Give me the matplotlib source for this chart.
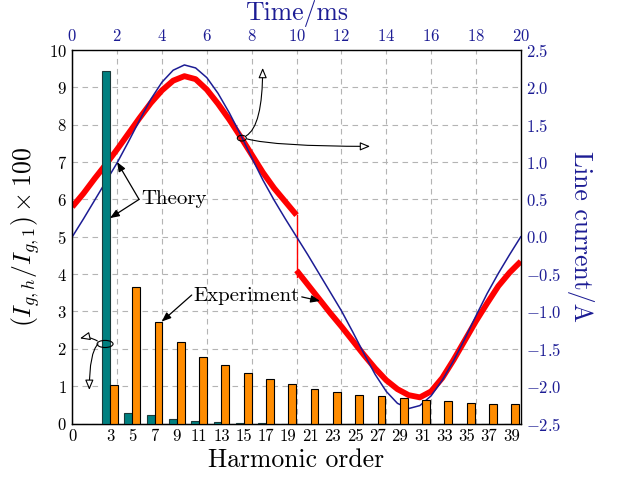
import numpy as np
import matplotlib.pyplot as plt
from matplotlib.patches import Ellipse

plt.rcParams['font.family'] = 'cmr10'
plt.rcParams['mathtext.fontset'] = 'cm'
plt.rcParams['axes.formatter.use_mathtext'] = True

# spectrum (left / bottom axes)
harmonics = [3, 5, 7, 9, 11, 13, 15, 17, 19, 21, 23, 25, 27, 29, 31, 33, 35, 37, 39]
theory = [9.45, 0.28, 0.24, 0.11, 0.07, 0.03, 0.02, 0.02, 0, 0, 0, 0, 0, 0, 0, 0, 0, 0, 0]
experiment = [1.03, 3.65, 2.73, 2.17, 1.78, 1.57, 1.35, 1.18, 1.07, 0.93, 0.84,
              0.76, 0.74, 0.69, 0.64, 0.60, 0.56, 0.53, 0.53]

# line current (top / right axes), sampled every 0.5 ms
time_ms = np.arange(0, 20.5, 0.5)
theory_current = [0, 0.24, 0.49, 0.74, 0.99, 1.27, 1.56, 1.84, 2.07, 2.23, 2.30,
                  2.26, 2.13, 1.92, 1.66, 1.37, 1.06, 0.76, 0.49, 0.24, 0,
                  -0.24, -0.49, -0.74, -0.99, -1.27, -1.56, -1.84, -2.07, -2.23, -2.30,
                  -2.26, -2.13, -1.92, -1.66, -1.37, -1.06, -0.76, -0.49, -0.24, 0]
exp_current_1 = [0.40, 0.58, 0.78, 0.97, 1.17, 1.38, 1.59, 1.79, 1.96, 2.09, 2.15,
                 2.11, 1.97, 1.78, 1.57, 1.34, 1.10, 0.86, 0.65, 0.47, 0.29]
exp_jump = [0.29, -0.54]
exp_current_2 = [-0.45, -0.64, -0.83, -1.02, -1.20, -1.39, -1.58, -1.76, -1.92, -2.04, -2.12,
                 -2.15, -2.07, -1.89, -1.65, -1.39, -1.13, -0.89, -0.66, -0.48, -0.33]

navy = '#1c1c94'
teal = '#008080'
orange = '#ff8c00'
grid_kw = dict(color='#b4b4b4', linestyle=(0, (5, 4)), linewidth=0.8)

fig = plt.figure(figsize=(6.21, 4.8), dpi=100)
pos = [0.1164, 0.1177, 0.7222, 0.7781]

# time axes underneath: grid + curves
ax_t = fig.add_axes(pos)
ax_t.set_xlim(0, 20)
ax_t.set_ylim(-2.5, 2.5)
ax_t.set_xticks(np.arange(0, 21, 2))
ax_t.set_yticks(np.arange(-2.5, 2.51, 0.5))
ax_t.xaxis.tick_top()
ax_t.yaxis.tick_right()
ax_t.xaxis.set_label_position('top')
ax_t.yaxis.set_label_position('right')
ax_t.tick_params(labelsize=12, labelcolor=navy, direction='in', length=0, pad=4)
ax_t.set_xlabel('Time/ms', fontsize=18.5, color=navy, labelpad=6)
ax_t.set_ylabel('Line current/A', fontsize=18.5, color=navy, rotation=-90, labelpad=23)
ax_t.grid(True, **grid_kw)
for s in ax_t.spines.values():
    s.set_linewidth(1.0)

red_kw = dict(color='red', lw=4.2, solid_capstyle='butt', solid_joinstyle='round', zorder=2)
ax_t.plot(time_ms, theory_current, color=navy, lw=1.1, zorder=3)
ax_t.plot(time_ms[:21], exp_current_1, **red_kw)
ax_t.plot([10, 10], exp_jump, color='red', lw=1.0, zorder=2)
ax_t.plot(time_ms[20:], exp_current_2, **red_kw)

# bar axes on top
ax_b = fig.add_axes(pos)
ax_b.patch.set_visible(False)
ax_b.set_xlim(-0.38, 39.84)
ax_b.set_ylim(0, 10)
ax_b.set_xticks([-0.38] + harmonics)
ax_b.set_xticklabels(['0'] + [str(h) for h in harmonics])
ax_b.set_yticks(range(0, 11))
ax_b.tick_params(labelsize=12, direction='in', length=0, pad=4)
ax_b.spines['top'].set_visible(False)
ax_b.spines['right'].set_visible(False)
ax_b.set_xlabel('Harmonic order', fontsize=18.5, labelpad=3)
ax_b.set_ylabel(r'$(I_{g,h}/I_{g,1})\times100$', fontsize=18.5, labelpad=5)

hx = np.array(harmonics)
ax_b.bar(hx - 0.35, theory, width=0.7, color=teal, edgecolor='#1a3a3a', linewidth=0.8)
ax_b.bar(hx + 0.35, experiment, width=0.7, color=orange, edgecolor='black', linewidth=0.8)

# labels with arrows
solid = dict(arrowstyle='-|>,head_length=0.55,head_width=0.22', color='black',
             lw=0.9, shrinkA=0, shrinkB=0)
ax_b.text(5.78, 6.0, 'Theory', fontsize=15, va='center', ha='left')
ax_b.annotate('', xy=(2.0, 1.0), xycoords=ax_t.transData, xytext=(5.61, 6.0),
              textcoords='data', arrowprops=solid)
ax_b.annotate('', xy=(3.0, 5.5), xytext=(5.61, 6.0), arrowprops=solid)

ax_b.text(10.45, 3.42, 'Experiment', fontsize=15, va='center', ha='left')
ax_b.annotate('', xy=(7.64, 2.73), xytext=(10.33, 3.44), arrowprops=solid)
ax_b.annotate('', xy=(11.05, -0.86), xycoords=ax_t.transData, xytext=(20.2, 3.39),
              textcoords='data', arrowprops=solid)

# axis markers: ellipses with open arrows
opened = dict(arrowstyle='-|>,head_length=0.6,head_width=0.25', fc='white', ec='black',
              lw=0.8, shrinkA=0, shrinkB=0)
ax_b.add_patch(Ellipse((7.56, 1.32), 0.4, 0.076, transform=ax_t.transData,
                       fill=False, lw=0.8, ec='black'))
ax_b.annotate('', xy=(8.49, 2.26), xycoords=ax_t.transData, xytext=(7.75, 1.35),
              textcoords=ax_t.transData,
              arrowprops=dict(opened, connectionstyle='angle3,angleA=30,angleB=90'))
ax_b.annotate('', xy=(13.28, 1.21), xycoords=ax_t.transData, xytext=(7.79, 1.31),
              textcoords=ax_t.transData,
              arrowprops=dict(opened, connectionstyle='angle3,angleA=-15,angleB=0'))

ax_b.add_patch(Ellipse((2.56, 2.13), 1.43, 0.19, fill=False, lw=0.8, ec='black'))
ax_b.annotate('', xy=(0.31, 2.28), xytext=(1.87, 2.21),
              arrowprops=dict(opened, connectionstyle='arc3,rad=0.2'))
ax_b.annotate('', xy=(1.15, 0.9), xytext=(1.93, 2.13),
              arrowprops=dict(opened, connectionstyle='angle3,angleA=45,angleB=90'))

fig.savefig('out.png', dpi=100)
